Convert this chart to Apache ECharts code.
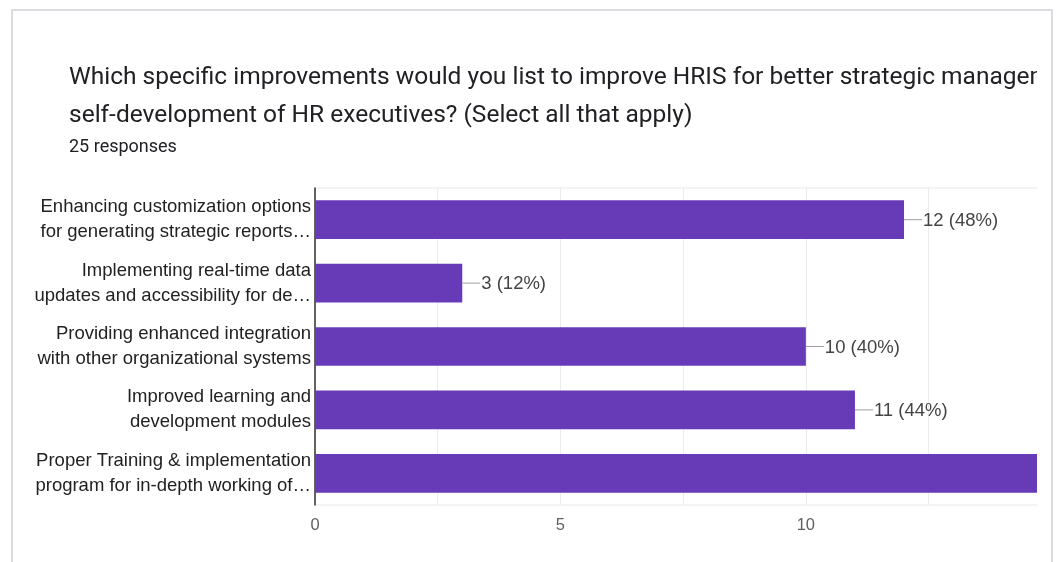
<!DOCTYPE html>
<html>
<head>
<meta charset="utf-8">
<script src="https://cdn.jsdelivr.net/npm/echarts@6/dist/echarts.min.js"></script>
<style>
  html, body { margin: 0; padding: 0; background: #ffffff; }
  body { width: 1057px; height: 562px; position: relative; overflow: hidden; }
  #card {
    position: absolute; left: 11px; top: 9px; width: 1042px; height: 600px;
    border: 2px solid #dadce0; box-sizing: border-box; background: #ffffff;
  }
  #clip {
    position: absolute; left: 0; top: 0; width: 1037px; height: 562px; overflow: hidden;
  }
  #chart { position: absolute; left: 0; top: 0; width: 1400px; height: 562px; }
</style>
</head>
<body>
<div id="card"></div>
<div id="clip"><div id="chart"></div></div>
<script>
// Survey question (two lines) and response count
const questionLines = [
  'Which specific improvements would you list to improve HRIS for better strategic management and',
  'self-development of HR executives? (Select all that apply)'
];
const responsesText = '25 responses';
const totalResponses = 25;

// Answer options (as shown, truncated to two lines)
const categories = [
  'Enhancing customization options\nfor generating strategic reports…',
  'Implementing real-time data\nupdates and accessibility for de…',
  'Providing enhanced integration\nwith other organizational systems',
  'Improved learning and\ndevelopment modules',
  'Proper Training & implementation\nprogram for in-depth working of…'
];

// Number of respondents selecting each option
const counts = [12, 3, 10, 11, 16];

// Value axis tick labels
const xTicks = [0, 5, 10, 15];

const chart = echarts.init(document.getElementById('chart'), null, { renderer: 'canvas' });

const axisFont = '"Liberation Sans", Arial, sans-serif';
const headFont = 'Roboto, sans-serif';

function headTitle(text, top, size, lh) {
  return {
    text: text,
    left: 64,
    top: top,
    textStyle: {
      fontFamily: headFont,
      fontSize: size,
      fontWeight: 'normal',
      color: '#202124',
      lineHeight: lh
    }
  };
}

chart.setOption({
  animation: false,
  backgroundColor: 'transparent',
  title: [
    headTitle(questionLines[0], 57, 24.5, 32),
    headTitle(questionLines[1], 95, 24.5, 32),
    headTitle(responsesText, 131, 18, 22)
  ],
  grid: {
    left: 315,
    top: 188,
    width: 859,
    height: 317,
    show: true,
    borderColor: '#e8e8e8',
    borderWidth: 1,
    containLabel: false
  },
  xAxis: {
    type: 'value',
    min: 0,
    max: 17.5,
    interval: 5,
    axisLine: { show: false },
    axisTick: { show: false },
    splitLine: { show: true, lineStyle: { color: '#ebebeb', width: 1 } },
    minorTick: { show: false, splitNumber: 2 },
    minorSplitLine: { show: true, lineStyle: { color: '#ebebeb', width: 1 } },
    axisLabel: {
      margin: 12,
      fontFamily: axisFont,
      fontSize: 16.5,
      color: '#5f5f5f',
      formatter: function (v) { return xTicks.indexOf(v) >= 0 ? String(v) : ''; }
    }
  },
  yAxis: {
    type: 'category',
    inverse: true,
    data: categories,
    axisLine: { show: true, lineStyle: { color: '#333333', width: 1.5 } },
    axisTick: { show: false },
    splitLine: { show: false },
    axisLabel: {
      margin: 4,
      fontFamily: axisFont,
      fontSize: 18.5,
      lineHeight: 25,
      color: '#222222',
      align: 'right',
      padding: [5, 0, 0, 0]
    }
  },
  series: [{
    type: 'bar',
    data: counts,
    barCategoryGap: '39%',
    itemStyle: { color: '#673ab7' },
    label: {
      show: true,
      position: 'right',
      distance: 0,
      formatter: function (p) {
        const pct = Math.round(p.value / totalResponses * 100);
        return '{l| }{v|' + p.value + ' (' + pct + '%)}';
      },
      rich: {
        l: { width: 18, height: 1, backgroundColor: '#9e9e9e' },
        v: { fontFamily: axisFont, fontSize: 18.5, color: '#444444', padding: [2, 0, 0, 1] }
      }
    }
  }]
});
</script>
</body>
</html>
